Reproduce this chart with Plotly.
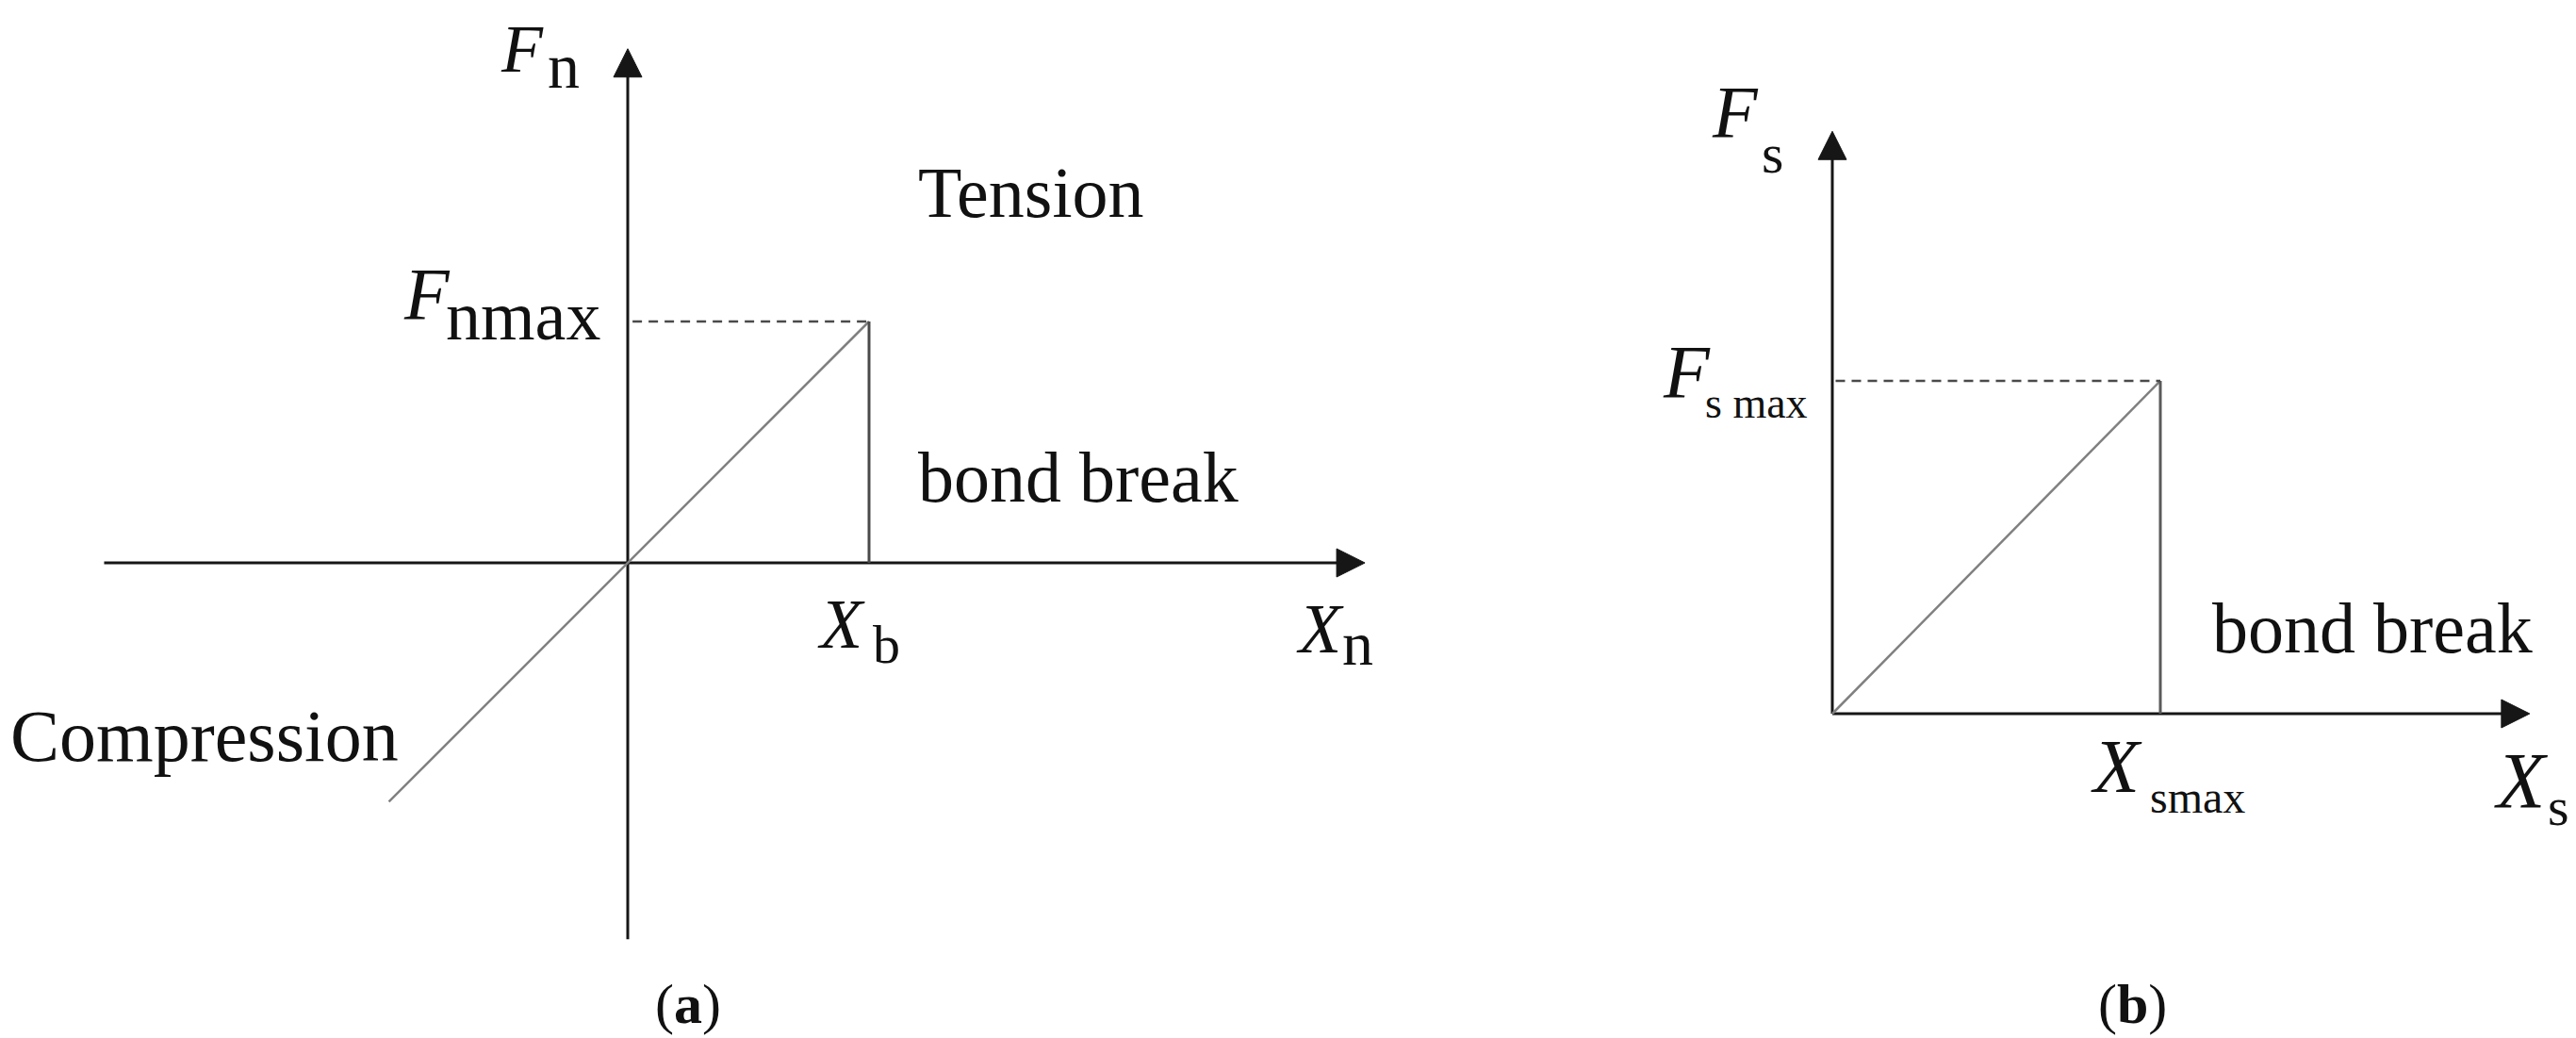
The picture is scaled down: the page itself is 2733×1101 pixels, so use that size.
import plotly.graph_objects as go

# ---------------- data (schematic units) ----------------
# panel (a): normal force vs normal displacement
A_X_B = 1.0            # X_b, breaking displacement
A_F_NMAX = 1.0         # F_nmax, tensile strength
A_XAXIS = [-2.17, 3.055]   # extent of X_n axis (tail, arrow tip)
A_YAXIS = [-1.56, 2.13]    # extent of F_n axis (tail, arrow tip)
A_LINE_X = [-0.99, 0.0, 1.0]   # linear elastic branch (compression -> tension)
A_LINE_Y = [-0.99, 0.0, 1.0]

# panel (b): shear force vs shear displacement
B_X_SMAX = 1.0
B_F_SMAX = 1.0
B_XAXIS = [0.0, 2.126]
B_YAXIS = [0.0, 1.75]
B_LINE_X = [0.0, 1.0]
B_LINE_Y = [0.0, 1.0]

W, H = 2733, 1101
# pixel geometry of the two panels (origin and unit size)
A_ORIGIN = (666, 597); A_UNIT = (256, 256)
B_ORIGIN = (1944, 757); B_UNIT = (348, 353)

FONT = "Liberation Serif"
AX_COL = "#161616"
DIAG_COL = "#808080"
BRK_COL = "#4a4a4a"

fig = go.Figure()


def line(x, y, xa, ya, color, width, dash=None):
    fig.add_trace(go.Scatter(x=x, y=y, mode="lines", xaxis=xa, yaxis=ya,
                             line=dict(color=color, width=width, dash=dash),
                             hoverinfo="skip", showlegend=False))


def arrow_head(tip_x, tip_y, direction, unit, xa, ya, length=30, half=15):
    ux, uy = unit
    if direction == "right":
        xs = [tip_x, tip_x - length / ux, tip_x - length / ux, tip_x]
        ys = [tip_y, tip_y + half / uy, tip_y - half / uy, tip_y]
    else:
        xs = [tip_x, tip_x - half / ux, tip_x + half / ux, tip_x]
        ys = [tip_y, tip_y - length / uy, tip_y - length / uy, tip_y]
    fig.add_trace(go.Scatter(x=xs, y=ys, mode="lines", fill="toself",
                             fillcolor=AX_COL, line=dict(color=AX_COL, width=1),
                             xaxis=xa, yaxis=ya, hoverinfo="skip", showlegend=False))


# ---- panel (a) ----
ux, uy = A_UNIT
line([A_XAXIS[0], A_XAXIS[1] - 28 / ux], [0, 0], "x", "y", AX_COL, 3)
line([0, 0], [A_YAXIS[0], A_YAXIS[1] - 28 / uy], "x", "y", AX_COL, 3)
arrow_head(A_XAXIS[1], 0, "right", A_UNIT, "x", "y")
arrow_head(0, A_YAXIS[1], "up", A_UNIT, "x", "y")
line(A_LINE_X, A_LINE_Y, "x", "y", DIAG_COL, 2.5)
line([A_X_B, A_X_B], [0, A_F_NMAX], "x", "y", BRK_COL, 3)
line([0.02, A_X_B], [A_F_NMAX, A_F_NMAX], "x", "y", BRK_COL, 2.5, "10px,7px")

# ---- panel (b) ----
ux, uy = B_UNIT
line([B_XAXIS[0], B_XAXIS[1] - 28 / ux], [0, 0], "x2", "y2", AX_COL, 3)
line([0, 0], [B_YAXIS[0], B_YAXIS[1] - 28 / uy], "x2", "y2", AX_COL, 3)
arrow_head(B_XAXIS[1], 0, "right", B_UNIT, "x2", "y2")
arrow_head(0, B_YAXIS[1], "up", B_UNIT, "x2", "y2")
line(B_LINE_X, B_LINE_Y, "x2", "y2", DIAG_COL, 2.5)
line([B_X_SMAX, B_X_SMAX], [0, B_F_SMAX], "x2", "y2", "#5a5a5a", 3)
line([0.01, B_X_SMAX], [B_F_SMAX, B_F_SMAX], "x2", "y2", BRK_COL, 2.5, "10px,7px")

# ---------------- text ----------------
ann = []


def lab(text, left, baseline, size, italic=False, bold=False, anchor="left"):
    if italic:
        text = "<i>" + text + "</i>"
    if bold:
        text = "<b>" + text + "</b>"
    ycenter = baseline - 0.34 * size
    ann.append(dict(text=text, xref="paper", yref="paper",
                    x=left / W, y=1 - ycenter / H, xanchor=anchor, yanchor="middle",
                    showarrow=False, borderpad=0,
                    font=dict(family=FONT, size=size, color="#111111")))


# panel (a)
lab("F", 530, 76, 72, italic=True)
lab("n", 580, 93, 68)
lab("Tension", 973, 230, 76)
lab("F", 427, 338, 78, italic=True)
lab("nmax", 472, 360, 74)
lab("bond break", 973, 532, 76)
lab("X", 866, 687, 74, italic=True)
lab("b", 925, 703, 58)
lab("X", 1374, 692, 74, italic=True)
lab("n", 1423, 705, 66)
lab("Compression", 10, 807, 78)
lab("(<b>a</b>)", 730, 1085, 60, anchor="center")

# panel (b)
lab("F", 1815, 145, 78, italic=True)
lab("s", 1868, 183, 60)
lab("F", 1763, 422, 80, italic=True)
lab("s max", 1808, 443, 46)
lab("bond break", 2346, 692, 76)
lab("X", 2217, 840, 80, italic=True)
lab("smax", 2280, 862, 48)
lab("X", 2645, 857, 84, italic=True)
lab("s", 2702, 875, 58)
lab("(<b>b</b>)", 2262, 1085, 60, anchor="center")


def rng(origin, unit):
    ox, oy = origin
    kx, ky = unit
    return [-ox / kx, (W - ox) / kx], [(oy - H) / ky, oy / ky]


axa_x, axa_y = rng(A_ORIGIN, A_UNIT)
axb_x, axb_y = rng(B_ORIGIN, B_UNIT)
hidden = dict(visible=False, showgrid=False, zeroline=False, fixedrange=True)

fig.update_layout(
    width=W, height=H, margin=dict(l=0, r=0, t=0, b=0, pad=0),
    paper_bgcolor="white", plot_bgcolor="white",
    xaxis=dict(range=axa_x, domain=[0, 1], **hidden),
    yaxis=dict(range=axa_y, domain=[0, 1], **hidden),
    xaxis2=dict(range=axb_x, overlaying="x", anchor="y2", **hidden),
    yaxis2=dict(range=axb_y, overlaying="y", anchor="x2", **hidden),
    annotations=ann, showlegend=False,
)

fig.write_html("out.html", config={"displayModeBar": False},
               post_script="document.body.style.margin='0';document.body.style.overflow='hidden';")
